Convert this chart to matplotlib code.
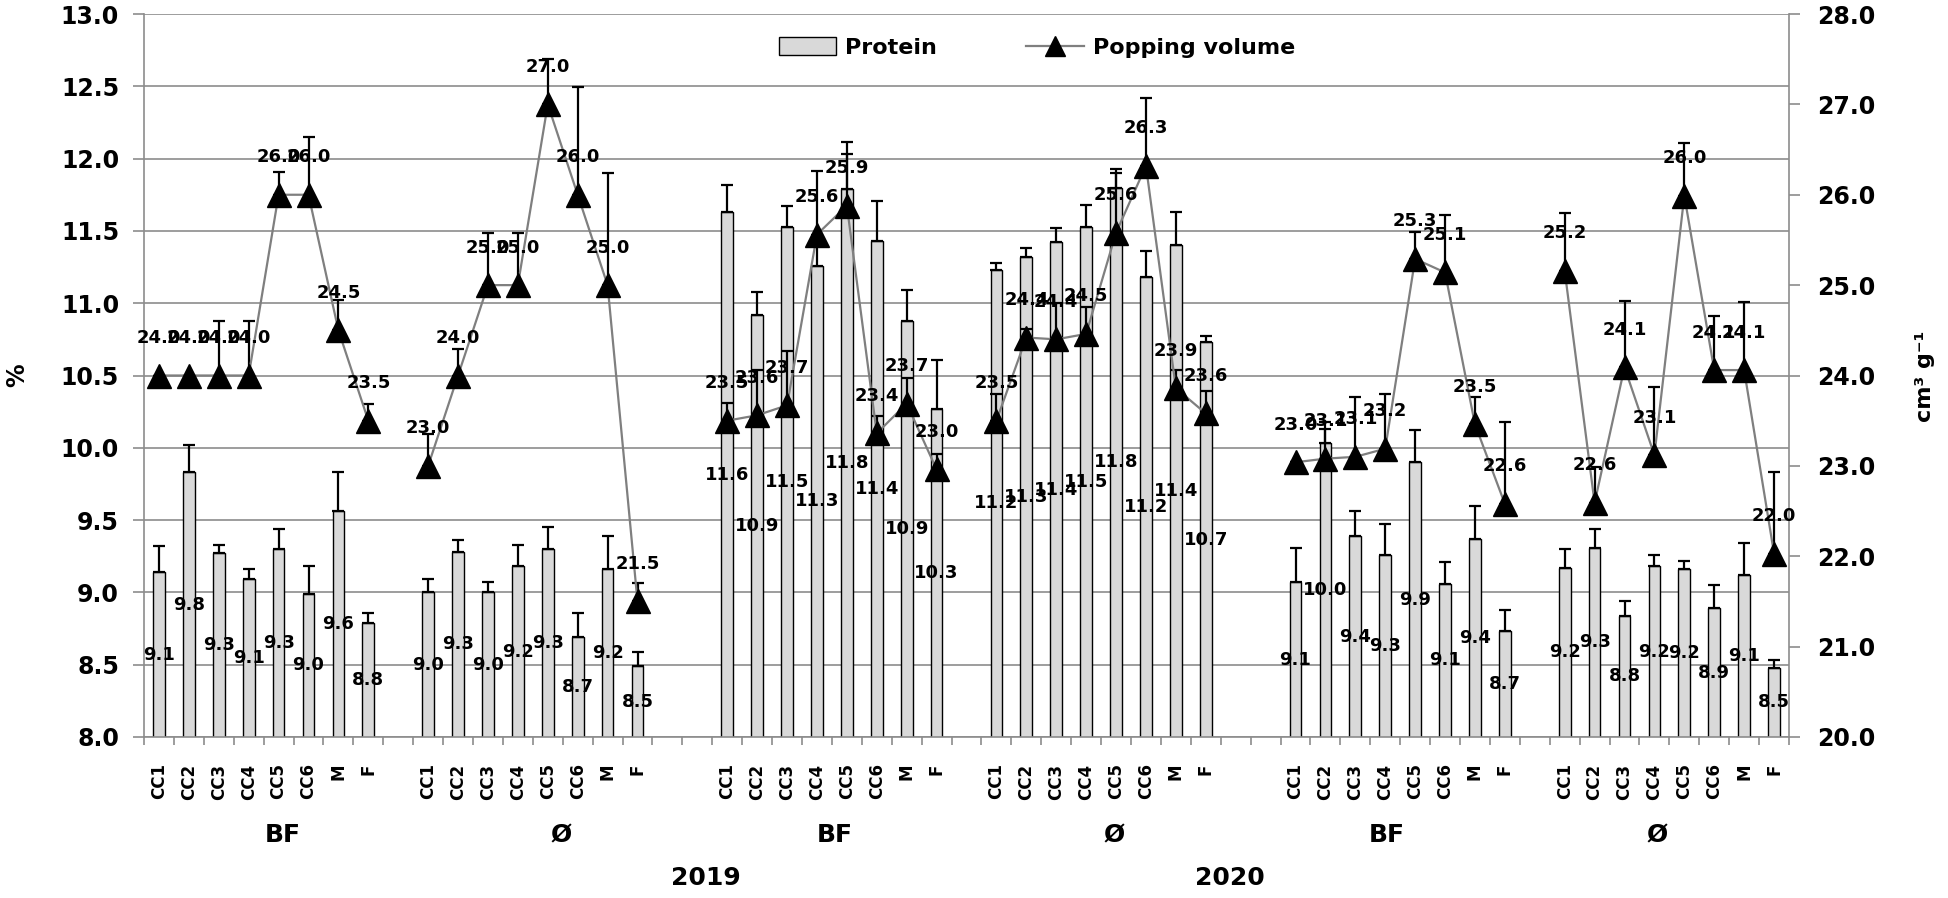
import matplotlib
matplotlib.use('Agg')
import matplotlib.pyplot as plt
import numpy as np
from matplotlib.patches import Patch
from matplotlib.lines import Line2D
from matplotlib.ticker import FormatStrFormatter, FixedLocator

plt.rcParams['font.family'] = ['DejaVu Sans']
plt.rcParams['font.weight'] = 'bold'

categories = ['CC1', 'CC2', 'CC3', 'CC4', 'CC5', 'CC6', 'M', 'F']
groups = ['BF', 'Ø', 'BF', 'Ø', 'BF', 'Ø']
years = ['2019', '2020']

# protein (%), one list per group
protein = [
    [9.14, 9.83, 9.27, 9.09, 9.30, 8.99, 9.56, 8.79],
    [9.00, 9.28, 9.00, 9.18, 9.30, 8.69, 9.16, 8.49],
    [11.63, 10.92, 11.53, 11.26, 11.79, 11.43, 10.88, 10.27],
    [11.23, 11.32, 11.42, 11.53, 11.80, 11.18, 11.40, 10.73],
    [9.07, 10.03, 9.39, 9.26, 9.90, 9.06, 9.37, 8.73],
    [9.17, 9.31, 8.84, 9.18, 9.16, 8.89, 9.12, 8.48],
]
protein_err = [
    [0.18, 0.19, 0.06, 0.07, 0.14, 0.19, 0.27, 0.07],
    [0.09, 0.08, 0.07, 0.15, 0.15, 0.17, 0.23, 0.10],
    [0.19, 0.16, 0.14, 0.20, 0.24, 0.28, 0.21, 0.34],
    [0.05, 0.06, 0.10, 0.15, 0.10, 0.18, 0.23, 0.04],
    [0.24, 0.10, 0.17, 0.21, 0.22, 0.15, 0.23, 0.15],
    [0.13, 0.13, 0.10, 0.08, 0.06, 0.16, 0.22, 0.05],
]

# popping volume (cm3 g-1)
popping = [
    [24.0, 24.0, 24.0, 24.0, 26.0, 26.0, 24.5, 23.5],
    [23.0, 24.0, 25.0, 25.0, 27.0, 26.0, 25.0, 21.5],
    [23.5, 23.56, 23.67, 25.56, 25.88, 23.36, 23.69, 22.96],
    [23.5, 24.42, 24.4, 24.46, 25.58, 26.32, 23.86, 23.58],
    [23.04, 23.08, 23.1, 23.19, 25.29, 25.14, 23.46, 22.58],
    [25.16, 22.59, 24.09, 23.12, 25.99, 24.06, 24.06, 22.03],
]
popping_err = [
    [0.0, 0.0, 0.6, 0.6, 0.25, 0.64, 0.33, 0.19],
    [0.35, 0.29, 0.58, 0.58, 0.5, 1.19, 1.24, 0.2],
    [0.2, 0.5, 0.6, 0.7, 0.7, 0.19, 0.28, 0.17],
    [0.3, 0.1, 0.4, 0.3, 0.7, 0.75, 0.2, 0.25],
    [0.0, 0.4, 0.66, 0.6, 0.3, 0.64, 0.3, 0.9],
    [0.64, 0.4, 0.73, 0.75, 0.58, 0.6, 0.75, 0.9],
]

# empty category slots after each group (excel layout)
gaps = [1, 2, 1, 2, 1, 0]
starts = []
pos = 0
for gap in gaps:
    starts.append(pos)
    pos += len(categories) + gap
n_slots = pos

grey = '#8c8c8c'

fig = plt.figure(figsize=(19.49, 8.98), dpi=100)
ax = fig.add_axes([144 / 1949, 1 - 737 / 898, (1789 - 144) / 1949, (737 - 14) / 898])
ax2 = ax.twinx()

tick_pos = []
for g in range(len(groups)):
    x = starts[g] + np.arange(len(categories))
    tick_pos.extend(x)
    zeros = np.zeros(len(x))
    ax.bar(x, protein[g], width=0.39, color='#d9d9d9', edgecolor='black',
           linewidth=1.0, zorder=2)
    ax.errorbar(x, protein[g], yerr=[zeros, protein_err[g]], fmt='none',
                ecolor='black', elinewidth=1.6, capsize=4.5, capthick=1.6, zorder=3)
    for xi, v in zip(x, protein[g]):
        ax.text(xi, (v + 8) / 2, f'{v:.1f}', ha='center', va='center',
                fontsize=13, zorder=4)

    ax2.errorbar(x, popping[g], yerr=[zeros, popping_err[g]], fmt='none',
                 ecolor='black', elinewidth=1.6, capsize=4.5, capthick=1.6, zorder=3)
    ax2.plot(x, popping[g], color='#7f7f7f', lw=1.6, marker='^', ms=17,
             mfc='black', mec='black', zorder=4)
    for xi, v in zip(x, popping[g]):
        ax2.annotate(f'{v:.1f}', (xi, v), xytext=(0, 27), textcoords='offset points',
                     ha='center', va='center', fontsize=13, zorder=5)

ax.set_xlim(-0.5, n_slots - 0.5)
ax.set_ylim(8, 13)
ax2.set_ylim(20, 28)
ax.set_yticks(np.arange(8, 13.01, 0.5))
ax2.set_yticks(np.arange(20, 28.01, 1))
ax.yaxis.set_major_formatter(FormatStrFormatter('%.1f'))
ax2.yaxis.set_major_formatter(FormatStrFormatter('%.1f'))
ax.yaxis.grid(True, color=grey, lw=1.2)
ax.set_axisbelow(True)

ax.set_xticks(tick_pos)
ax.set_xticklabels(categories * len(groups), rotation=90, fontsize=12)
ax.xaxis.set_minor_locator(FixedLocator(np.arange(-0.5, n_slots, 1)))
ax.tick_params(axis='x', which='major', length=0, pad=19)
ax.tick_params(axis='x', which='minor', length=6, width=1.2, color=grey)
ax.tick_params(axis='y', labelsize=17, length=8, width=1.2, color=grey, pad=10)
ax2.tick_params(axis='y', labelsize=17, length=8, width=1.2, color=grey, pad=12)

for a in (ax, ax2):
    a.spines['top'].set_visible(False)
    for s in ('left', 'right', 'bottom'):
        a.spines[s].set_color(grey)
        a.spines[s].set_linewidth(1.2)
ax.spines['right'].set_visible(False)
ax2.spines['left'].set_visible(False)
ax2.spines['bottom'].set_visible(False)

# group and year labels under the axis
group_x = [4.15, 13.45, 22.6, 31.95, 41.05, 50.1]
for gx, name in zip(group_x, groups):
    ax.text(gx, -0.1355, name, transform=ax.get_xaxis_transform(),
            ha='center', va='center', fontsize=18)
for yx, yr in zip([18.3, 35.8], years):
    ax.text(yx, -0.195, yr, transform=ax.get_xaxis_transform(),
            ha='center', va='center', fontsize=18)

fig.text(17 / 1949, 1 - 375 / 898, '%', rotation=90, ha='center', va='center', fontsize=17)
fig.text(1925 / 1949, 1 - 376 / 898, 'cm³ g⁻¹', rotation=90, ha='center', va='center',
         fontsize=16)

handles = [Patch(facecolor='#d9d9d9', edgecolor='black', linewidth=1.0),
           Line2D([], [], color='#7f7f7f', lw=1.6, marker='^', ms=15,
                  mfc='black', mec='black')]
fig.legend(handles, ['Protein', 'Popping volume'], loc='center',
           bbox_to_anchor=(0.532, 0.947), ncol=2, frameon=False,
           prop={'size': 16, 'weight': 'bold'}, handlelength=2.6, handleheight=0.85,
           handletextpad=0.4, columnspacing=4.0)

fig.savefig('out.png', dpi=100)
